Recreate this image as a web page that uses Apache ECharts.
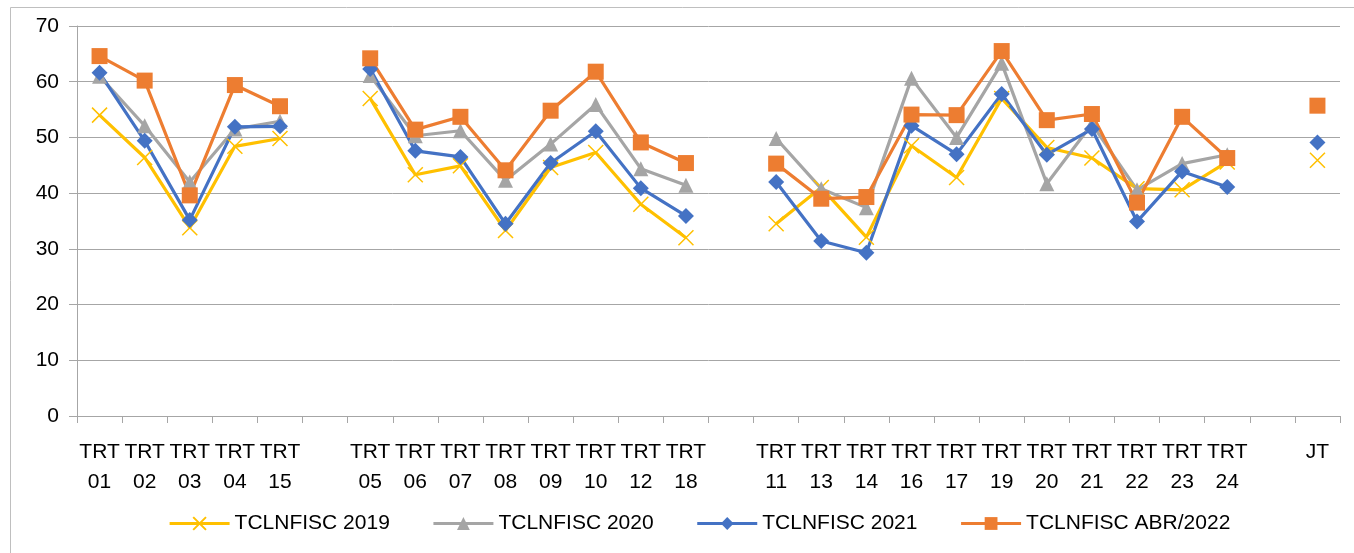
<!DOCTYPE html>
<html>
<head>
<meta charset="utf-8">
<title>TCLNFISC</title>
<script src="https://cdn.jsdelivr.net/npm/echarts@6/dist/echarts.min.js"></script>
<style>
  html, body { margin: 0; padding: 0; background: #fff; }
  #chart { width: 1354px; height: 553px; }
</style>
</head>
<body>
<div id="chart"></div>
<script>
// categorias (vazio = espaço entre grupos)
var categories = ['TRT\n01', 'TRT\n02', 'TRT\n03', 'TRT\n04', 'TRT\n15', '',
  'TRT\n05', 'TRT\n06', 'TRT\n07', 'TRT\n08', 'TRT\n09', 'TRT\n10', 'TRT\n12', 'TRT\n18', '',
  'TRT\n11', 'TRT\n13', 'TRT\n14', 'TRT\n16', 'TRT\n17', 'TRT\n19', 'TRT\n20', 'TRT\n21', 'TRT\n22', 'TRT\n23', 'TRT\n24', '',
  'JT'];

var seriesNames = ['TCLNFISC 2019', 'TCLNFISC 2020', 'TCLNFISC 2021', 'TCLNFISC ABR/2022'];

var data2019 = [54, 46.4, 33.8, 48.4, 49.8, null,
  57, 43.3, 44.9, 33.3, 44.6, 47.3, 38, 32, null,
  34.5, 41, 32.1, 48.5, 42.8, 57, 48.2, 46.3, 40.8, 40.6, 45.6, null,
  45.9];
var data2020 = [61, 52.1, 42, 51.5, 52.9, null,
  61.1, 50.3, 51.2, 42.3, 48.8, 55.9, 44.4, 41.4, null,
  49.8, 40.8, 37.4, 60.6, 50, 63.3, 41.7, 52.4, 40.6, 45.3, 46.9, null,
  null];
var data2021 = [61.6, 49.4, 35.2, 51.9, 52, null,
  62.3, 47.6, 46.5, 34.5, 45.4, 51.1, 40.9, 35.9, null,
  42, 31.4, 29.3, 52.1, 47, 57.8, 46.9, 51.5, 34.9, 43.9, 41.1, null,
  49.1];
var data2022 = [64.6, 60.2, 39.6, 59.4, 55.6, null,
  64.2, 51.4, 53.7, 44.1, 54.8, 61.8, 49.1, 45.4, null,
  45.3, 39, 39.3, 54.1, 54, 65.5, 53.1, 54.2, 38.3, 53.7, 46.3, null,
  55.7];

var yTicks = { min: 0, max: 70, interval: 10 };

(function () {
  var myChart = echarts.init(document.getElementById('chart'));
  var fontFam = '"Liberation Sans", sans-serif';
  var gridColor = '#a6a6a6';

  function mkSeries(name, data, color, symbol, size, extra) {
    var s = {
      name: name,
      type: 'line',
      data: data,
      connectNulls: false,
      symbol: symbol,
      symbolSize: size,
      lineStyle: { width: 3.2, color: color },
      itemStyle: { color: color },
      emphasis: { disabled: true }
    };
    if (extra) { for (var k in extra) s[k] = extra[k]; }
    return s;
  }

  var option = {
    animation: false,
    textStyle: { fontFamily: fontFam },
    // borda externa do gráfico
    graphic: [{
      type: 'rect',
      shape: { x: 10.5, y: 7.5, width: 1400, height: 600 },
      style: { fill: 'none', stroke: '#bfbfbf', lineWidth: 1 },
      silent: true
    }],
    grid: { left: 77, top: 26, width: 1263, height: 390 },
    legend: {
      bottom: 14,
      left: 163,
      itemWidth: 60,
      itemHeight: 16,
      itemGap: 42,
      lineStyle: { width: 3.2 },
      textStyle: { fontSize: 21, color: '#000', fontFamily: fontFam },
      data: seriesNames
    },
    xAxis: {
      type: 'category',
      data: categories,
      boundaryGap: true,
      axisLine: { lineStyle: { color: gridColor, width: 1 } },
      axisTick: { show: true, length: 7, interval: 0, lineStyle: { color: gridColor } },
      axisLabel: { interval: 0, color: '#000', fontSize: 21, lineHeight: 30, margin: 21, fontFamily: fontFam }
    },
    yAxis: {
      type: 'value',
      min: yTicks.min,
      max: yTicks.max,
      interval: yTicks.interval,
      axisLine: { show: true, lineStyle: { color: gridColor } },
      axisTick: { show: true, length: 8, lineStyle: { color: gridColor } },
      splitLine: { lineStyle: { color: gridColor, width: 1 } },
      axisLabel: { color: '#000', fontSize: 21, margin: 18, fontFamily: fontFam }
    },
    series: [
      mkSeries(seriesNames[0], data2019, '#FFC000', 'path://M0,0L10,10M10,0L0,10', 15,
        { itemStyle: { color: '#FFC000', borderColor: '#FFC000', borderWidth: 1.5 } }),
      mkSeries(seriesNames[1], data2020, '#A5A5A5', 'triangle', 15),
      mkSeries(seriesNames[2], data2021, '#4472C4', 'diamond', 16),
      mkSeries(seriesNames[3], data2022, '#ED7D31', 'rect', 16)
    ]
  };

  myChart.setOption(option);
  window.addEventListener('resize', function () {
    myChart.resize();
  });
})();
</script>
</body>
</html>
